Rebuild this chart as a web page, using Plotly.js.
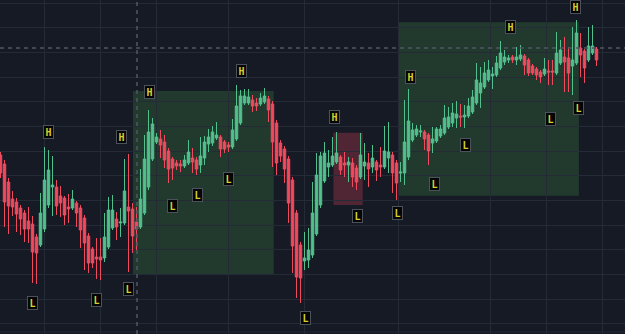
<!DOCTYPE html>
<html><head><meta charset="utf-8">
<script src="https://cdn.plot.ly/plotly-3.0.1.min.js"></script>
<style>html,body{margin:0;padding:0;background:#161a25;overflow:hidden}#chart{width:625px;height:334px;}</style>
</head><body><div id="chart"></div>
<script>
const openP = [179,170,152,135,132,126,121,113,110,97, 89,105,129,147,147,138,136,127,126,131,
  126,116,98,85,77,77,76,87,106,115, 111,111,127,125,112,107,121,147,175,192,
  195,192,183,175,171,170,168,171,176,174, 169,176,190,191,196,197,192,189,187,195,
  211,231,231,234,231,230,232,235,230,211, 191,185,175,154,121,89,73,74,79,100,
  129,153,167,169,172,177,171,169,171,166, 157,168,171,167,172,169,167,176,179,171,
  161,161,177,194,199,202,202,199,191,193, 198,201,207,211,216,218,217,218,222,231,
  241,247,254,258,259,266,272,274,277,274, 275,278,274,268,265,262,260,263,263,261,
  271,277,276,268,271,286,283,274,281,285];
const highP = [182,174,156,143,136,129,124,127,118,100, 141,187,184,178,154,148,138,140,144,133,
  129,119,101,87,96,96,121,137,139,122, 126,175,180,131,127,165,199,224,216,201,
  204,199,186,177,174,174,179,194,186,177, 197,198,205,208,212,199,194,192,215,249,
  244,245,245,239,236,241,246,238,233,214, 194,188,178,157,124,92,102,106,152,181,
  182,192,184,197,202,179,182,177,176,169, 201,191,181,189,174,187,208,212,182,174,
  172,234,245,211,209,209,204,201,207,207, 209,229,227,231,233,230,229,236,244,271,
  267,272,274,267,278,293,284,279,279,287, 289,280,276,270,267,264,276,274,274,302,
  294,297,287,307,314,301,285,307,309,287];
const lowP = [156,107,100,118,102,99,92,91,51,50, 87,102,126,118,119,117,109,111,124,107,
  86,64,61,66,55,54,72,85,104,94, 97,109,62,81,84,105,119,144,173,190,
  176,166,151,154,164,162,166,169,161,159, 161,169,182,188,194,177,181,182,185,193,
  209,229,229,222,223,228,230,212,167,159, 172,151,111,61,36,31,64,66,76,98,
  126,151,157,167,170,159,157,152,147,144, 155,154,147,161,153,157,165,161,141,134,
  152,149,174,192,197,197,184,169,181,191, 196,199,205,207,206,207,206,216,220,229,
  226,245,252,245,257,264,269,271,271,269, 273,259,258,259,254,251,258,249,249,259,
  269,242,242,239,269,257,251,272,279,268];
const closeP = [161,132,128,127,120,115,105,105,82,81, 121,154,164,149,128,131,119,125,135,121,
  104,91,71,71,75,74,97,124,124,107, 112,143,123,98,105,135,175,202,210,197,
  189,174,165,166,168,168,174,182,172,165, 178,192,197,202,199,185,185,187,204,228,
  238,238,237,228,228,236,238,224,192,171, 178,165,131,88,57,56,76,84,121,159,
  178,181,171,178,181,164,169,172,157,152, 179,172,165,176,164,167,183,182,161,151,
  162,192,213,204,205,203,195,183,195,205, 205,216,217,221,220,217,219,228,237,254,
  251,261,264,260,271,281,277,276,274,277, 279,269,261,261,259,257,265,262,262,281,
  284,272,261,274,301,279,266,288,288,274];
const candleIdx = openP.map((_, i) => i);

// swing markers
const highMarkIdx = [12.05, 30.2, 37.2, 60.2, 83.45, 102.45, 127.6, 143.7];
const highMarkPrice = [202.5, 197, 242.3, 263, 217.3, 256.7, 306.7, 326.7];
const lowMarkIdx = [7.875, 24, 32.075, 43.05, 49.125, 57.05, 76.25, 89.25, 99.2, 108.375, 116.3, 137.45, 144.55];
const lowMarkPrice = [31, 34.3, 45.3, 128, 139, 155, 16.3, 118, 121, 150.3, 189, 215, 226];

// zones: [startIdx, endIdx, lowPrice, highPrice]
const bullZones = [[33.125, 68.3, 60, 243], [99.55, 144.6, 138.3, 311.7]];
const bearZones = [[83.25, 90.55, 129, 201.3]];

const gridIdx = [10.9, 24.9, 39.1, 57.1, 76.1, 99.6, 122.6, 136.6, 150.6];
const crossIdx = 34.125, crossPrice = 286;

const GREEN = '#52c08d', RED = '#f04a5f', BG = '#161a25', GRID = '#252a37';

const trace = {
  type: 'candlestick', x: candleIdx, open: openP, high: highP, low: lowP, close: closeP,
  increasing: {line: {color: GREEN, width: 1}, fillcolor: GREEN},
  decreasing: {line: {color: RED, width: 1}, fillcolor: RED},
  whiskerwidth: 0, hoverinfo: 'skip', showlegend: false
};

const shapes = [];
bullZones.forEach(z => shapes.push({type:'rect', layer:'below', xref:'x', yref:'y', x0:z[0], x1:z[1], y0:z[2], y1:z[3],
  fillcolor:'rgba(76,175,80,0.22)', line:{width:0}}));
bearZones.forEach(z => shapes.push({type:'rect', layer:'below', xref:'x', yref:'y', x0:z[0], x1:z[1], y0:z[2], y1:z[3],
  fillcolor:'rgba(242,73,92,0.27)', line:{width:0}}));
shapes.push({type:'line', xref:'x', yref:'paper', x0:crossIdx, x1:crossIdx, y0:0, y1:1, line:{color:'#4f5564', width:1.5, dash:'4px,4px'}});
shapes.push({type:'line', xref:'paper', yref:'y', x0:0, x1:1, y0:crossPrice, y1:crossPrice, line:{color:'#4f5564', width:1.5, dash:'4px,4px'}});
shapes.push({type:'line', xref:'paper', yref:'paper', x0:0, x1:1, y0:0.006, y1:0.006, layer:'below', line:{color:GRID, width:1}});

function mark(x, y, t) {
  return {x:x, y:y, xref:'x', yref:'y', text:'<b>'+t+'</b>', showarrow:false,
    bgcolor:'#050505', bordercolor:'#4b525c', borderwidth:1, borderpad:1, width:7, height:10,
    font:{family:'DejaVu Sans Mono', size:10, color:'#d6cf2c'}};
}
const annotations = [];
highMarkIdx.forEach((x, k) => annotations.push(mark(x, highMarkPrice[k], 'H')));
lowMarkIdx.forEach((x, k) => annotations.push(mark(x, lowMarkPrice[k], 'L')));

const layout = {
  width: 625, height: 334, margin: {l:0, r:0, t:0, b:0},
  paper_bgcolor: BG, plot_bgcolor: BG, showlegend: false, boxgap: 0.12,
  xaxis: {range: [-0.125, 156.125], tickmode:'array', tickvals: gridIdx, showticklabels:false, ticks:'',
    showgrid:true, gridcolor:GRID, gridwidth:1, zeroline:false, showline:false, rangeslider:{visible:false}},
  yaxis: {range: [0, 334], tick0: 10.3, dtick: 24.65, showticklabels:false, ticks:'',
    showgrid:true, gridcolor:GRID, gridwidth:1, zeroline:false, showline:false},
  shapes: shapes, annotations: annotations
};
Plotly.newPlot('chart', [trace], layout, {staticPlot:true, displayModeBar:false});
</script></body></html>
